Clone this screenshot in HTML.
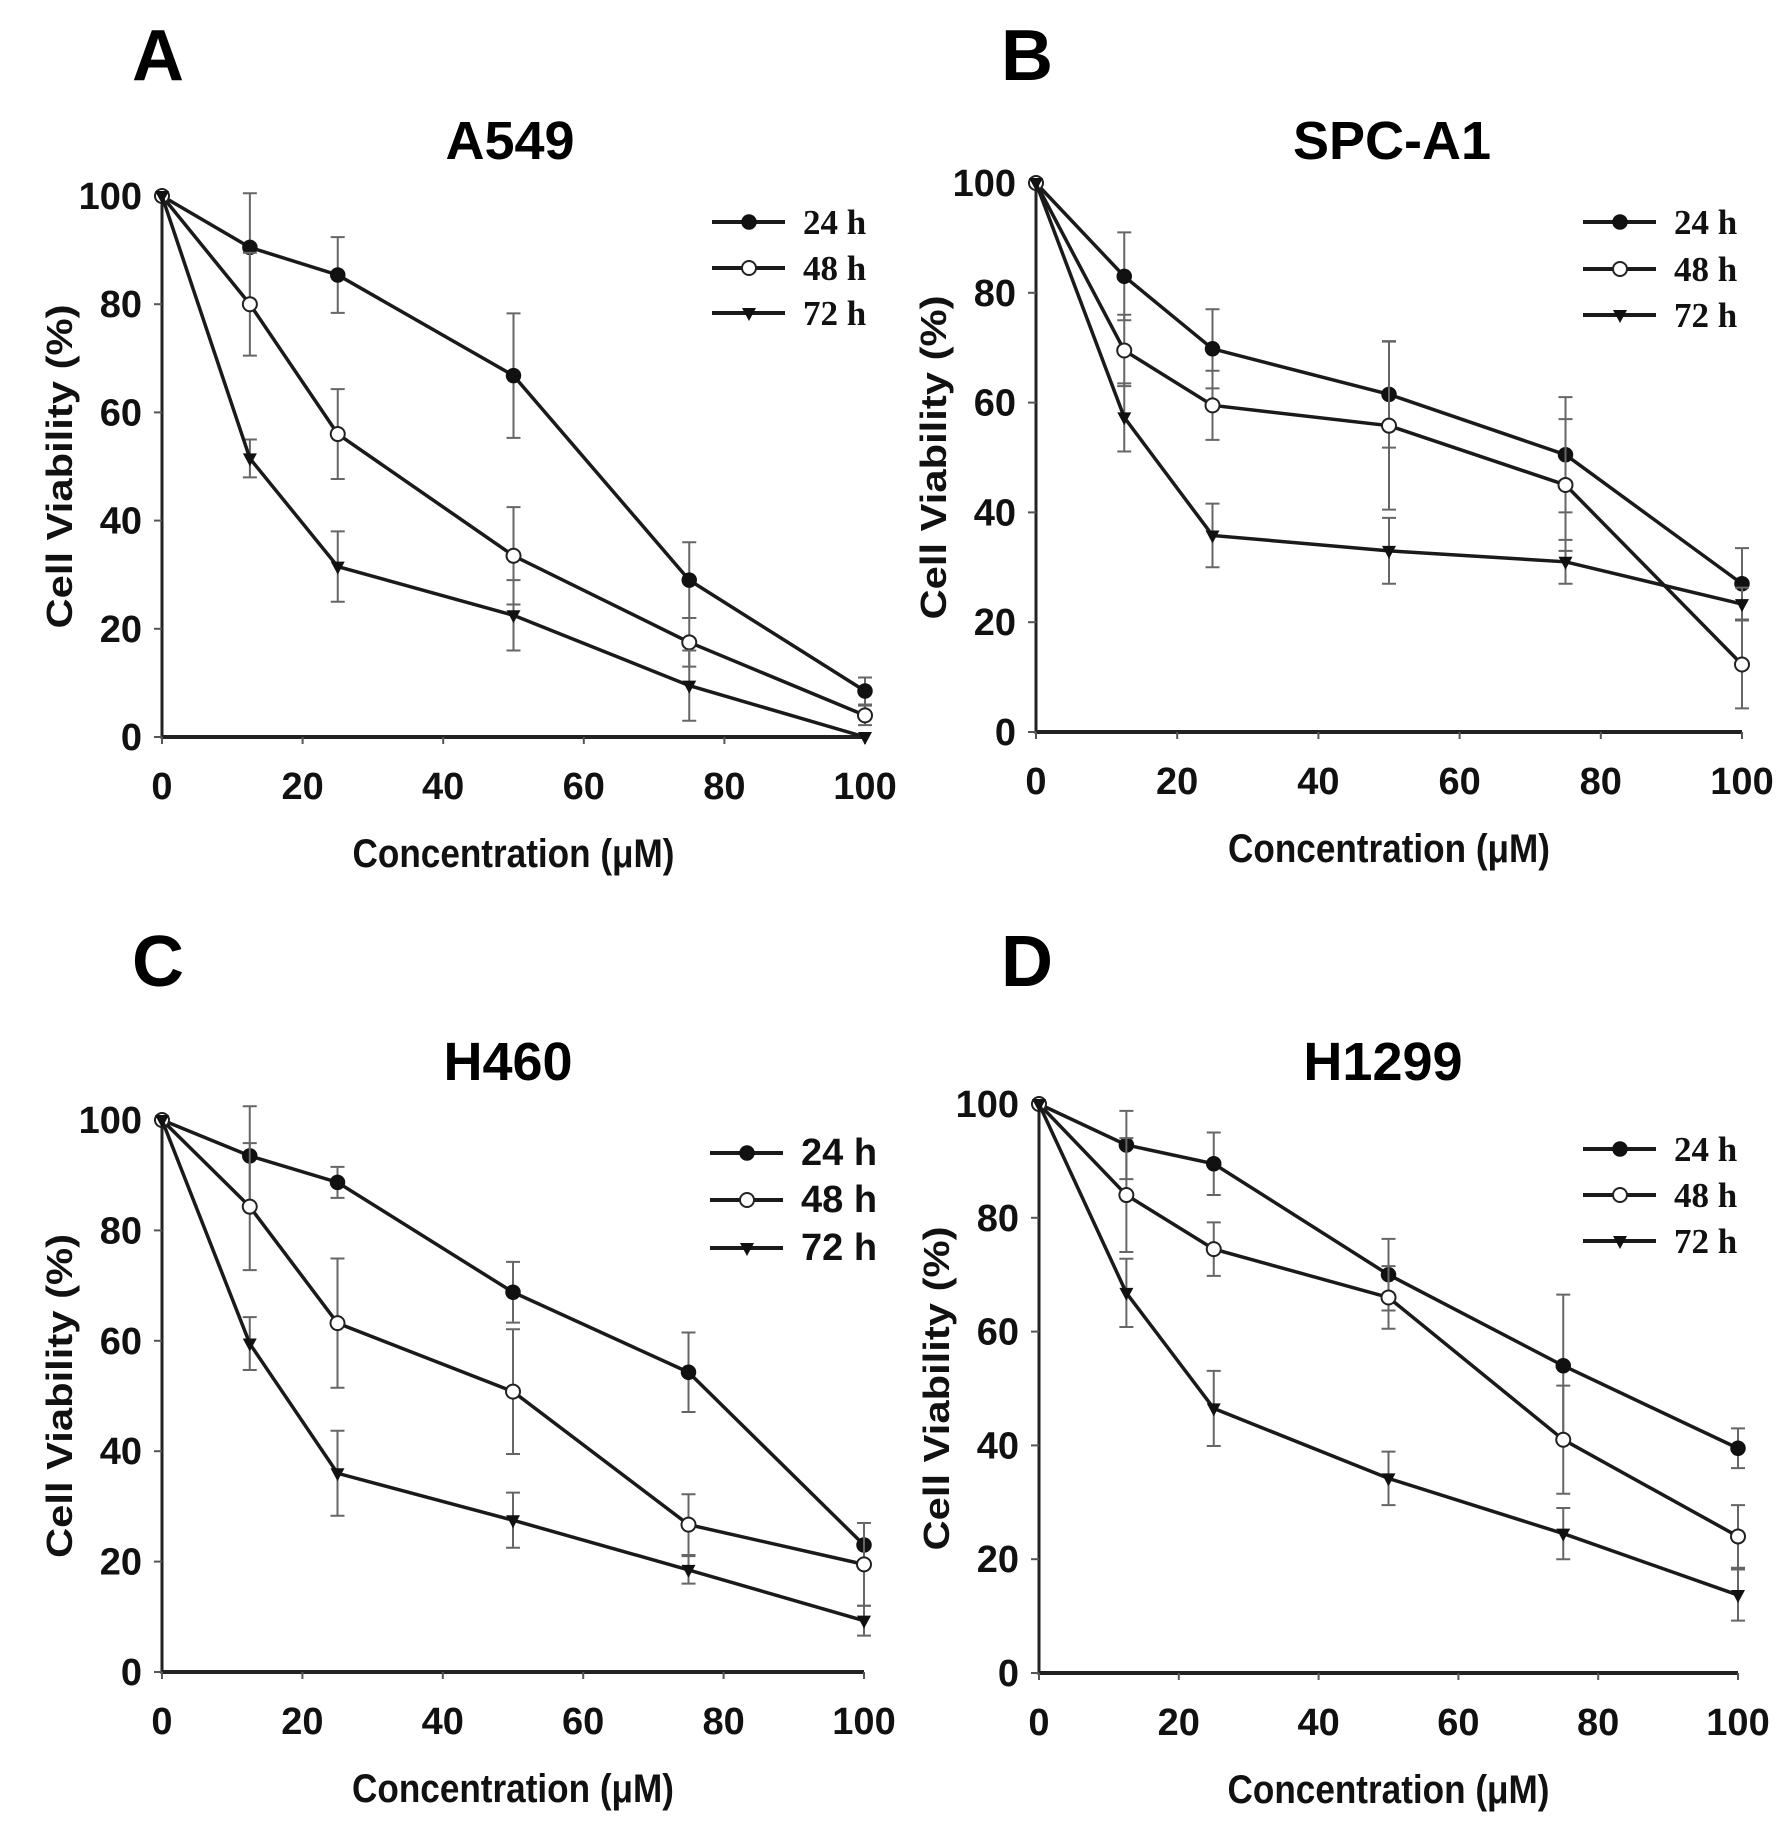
<!DOCTYPE html>
<html><head><meta charset="utf-8"><style>
html,body{margin:0;padding:0;background:#fff;}
svg{display:block;}
</style></head><body>
<svg id="fig" width="1779" height="1845" viewBox="0 0 1779 1845" xmlns="http://www.w3.org/2000/svg"></svg>
<script>
// ---- data ----
const concentrations = [0, 12.5, 25, 50, 75, 100];
const xTicks = [0, 20, 40, 60, 80, 100];
const yTicks = [0, 20, 40, 60, 80, 100];
const seriesNames = ["24 h", "48 h", "72 h"];

const a549_24 = [100, 90.5, 85.4, 66.8, 29, 8.5];
const a549_24_err = [0, 10, 7, 11.5, 7, 2.5];
const a549_48 = [100, 80, 56, 33.5, 17.5, 4];
const a549_48_err = [0, 9.5, 8.3, 9, 4.5, 1.8];
const a549_72 = [100, 51.5, 31.5, 22.5, 9.5, 0];
const a549_72_err = [0, 3.5, 6.5, 6.5, 6.5, 0];

const spc_24 = [100, 83, 69.8, 61.5, 50.5, 27];
const spc_24_err = [0, 8, 7.2, 9.7, 10.5, 6.5];
const spc_48 = [100, 69.5, 59.5, 55.8, 45, 12.3];
const spc_48_err = [0, 6.5, 6.3, 15.3, 12, 8];
const spc_72 = [100, 57.3, 35.8, 33, 31, 23.3];
const spc_72_err = [0, 6.2, 5.8, 6, 4, 3];

const h460_24 = [100, 93.5, 88.7, 68.8, 54.3, 23];
const h460_24_err = [0, 9, 2.8, 5.5, 7.2, 4];
const h460_48 = [100, 84.3, 63.2, 50.8, 26.7, 19.5];
const h460_48_err = [0, 11.5, 11.7, 11.3, 5.5, 7.5];
const h460_72 = [100, 59.5, 36, 27.5, 18.5, 9.3];
const h460_72_err = [0, 4.8, 7.7, 5, 2.5, 2.7];

const h1299_24 = [100, 92.8, 89.5, 70, 54, 39.5];
const h1299_24_err = [0, 6, 5.5, 6.3, 12.5, 3.5];
const h1299_48 = [100, 84, 74.5, 66, 41, 24];
const h1299_48_err = [0, 10, 4.7, 5.5, 9.5, 5.5];
const h1299_72 = [100, 66.8, 46.5, 34.2, 24.5, 13.7];
const h1299_72_err = [0, 6, 6.6, 4.7, 4.5, 4.5];

// ---- layout (not data) ----
const panels = [
  {id:"a", letter:"A", title:"A549", x0:162, x1:865, y0:737, y1:196, letX:132, letY:80, titX:510, titY:159, lx:712, ly:[222,268,313], lf:'"Liberation Serif", serif',
   s:[[a549_24,a549_24_err],[a549_48,a549_48_err],[a549_72,a549_72_err]]},
  {id:"b", letter:"B", title:"SPC-A1", x0:1036, x1:1742, y0:732, y1:183, letX:1001, letY:80, titX:1392, titY:159, lx:1583, ly:[222,269,315], lf:'"Liberation Serif", serif',
   s:[[spc_24,spc_24_err],[spc_48,spc_48_err],[spc_72,spc_72_err]]},
  {id:"c", letter:"C", title:"H460", x0:162, x1:864, y0:1672, y1:1120, letX:132, letY:986, titX:508, titY:1080, lx:710, ly:[1153,1200,1248], lf:'"Liberation Sans", sans-serif',
   s:[[h460_24,h460_24_err],[h460_48,h460_48_err],[h460_72,h460_72_err]]},
  {id:"d", letter:"D", title:"H1299", x0:1039, x1:1738, y0:1673, y1:1104, letX:1001, letY:986, titX:1383, titY:1080, lx:1583, ly:[1149,1195,1241], lf:'"Liberation Serif", serif',
   s:[[h1299_24,h1299_24_err],[h1299_48,h1299_48_err],[h1299_72,h1299_72_err]]}
];

const NS = "http://www.w3.org/2000/svg";
const svg = document.getElementById("fig");
function mk(tag, attrs, parent){
  const e = document.createElementNS(NS, tag);
  for (const k in attrs) e.setAttribute(k, attrs[k]);
  parent.appendChild(e);
  return e;
}
const NARROW = '"Liberation Sans Narrow", "Liberation Sans", sans-serif';

function marker(g, k, cx, cy){
  let m;
  if (k === 0) m = mk("circle", {cx:cx, cy:cy, r:7, fill:"#111", stroke:"#111", "stroke-width":1.5}, g);
  else if (k === 1) m = mk("circle", {cx:cx, cy:cy, r:7, fill:"#fff", stroke:"#222", "stroke-width":2}, g);
  else m = mk("polygon", {points:`${cx-7},${cy-5} ${cx+7},${cy-5} ${cx},${cy+8}`, fill:"#111"}, g);
  return m;
}

panels.forEach(p => {
  const X = v => p.x0 + (p.x1 - p.x0) * v / 100;
  const Y = v => p.y0 - (p.y0 - p.y1) * v / 100;
  const g = mk("g", {}, svg);
  
  

  const let_ = mk("text", {x:p.letX, y:p.letY, "font-family":'"Liberation Sans", sans-serif', "font-weight":"bold", "font-size":72}, g);
  let_.textContent = p.letter;
  
  

  const t = mk("text", {x:p.titX, y:p.titY, "text-anchor":"middle", "font-family":'"Liberation Sans", sans-serif', "font-weight":"bold", "font-size":54}, g);
  t.textContent = p.title;
  
  

  const ax = mk("line", {x1:p.x0, y1:p.y0, x2:p.x1, y2:p.y0, stroke:"#222", "stroke-width":4}, g);
  
  
  const ay = mk("line", {x1:p.x0, y1:p.y0 + 2, x2:p.x0, y2:p.y1, stroke:"#222", "stroke-width":3}, g);
  
  

  xTicks.forEach(v => {
    mk("line", {x1:X(v), y1:p.y0, x2:X(v), y2:p.y0 + 7, stroke:"#555", "stroke-width":2}, g);
    const tl = mk("text", {x:X(v), y:p.y0 + 62, "text-anchor":"middle", "font-family":NARROW, "font-weight":"bold", "font-size":38, fill:"#111"}, g);
    tl.textContent = v;
    
    
  });
  yTicks.forEach(v => {
    mk("line", {x1:p.x0 - 8, y1:Y(v), x2:p.x0, y2:Y(v), stroke:"#555", "stroke-width":2}, g);
    const tl = mk("text", {x:p.x0 - 20, y:Y(v) + 13, "text-anchor":"end", "font-family":NARROW, "font-weight":"bold", "font-size":38, fill:"#111"}, g);
    tl.textContent = v;
    
    
  });

  const xt = mk("text", {x:(p.x0 + p.x1)/2, y:p.y0 + 130, "text-anchor":"middle", "font-family":NARROW, "font-weight":"bold", "font-size":40, textLength:322, lengthAdjust:"spacingAndGlyphs", fill:"#111"}, g);
  xt.textContent = "Concentration (μM)";
  
  
  const cy = (p.y0 + p.y1)/2;
  const yt = mk("text", {x:p.x0 - 90, y:cy, transform:`rotate(-90 ${p.x0 - 90} ${cy})`, "text-anchor":"middle", "font-family":'"Liberation Sans", sans-serif', "font-weight":"bold", "font-size":36, textLength:324, lengthAdjust:"spacingAndGlyphs", fill:"#111"}, g);
  yt.textContent = "Cell Viability (%)";
  
  

  p.s.forEach((ser, k) => {
    const vals = ser[0], errs = ser[1];
    const sg = mk("g", {}, g);
    
    
    vals.forEach((v, i) => {
      const e = errs[i];
      if (e > 0) {
        const eb = mk("path", {d:`M${X(concentrations[i])},${Y(v+e)}V${Y(v-e)}M${X(concentrations[i])-7},${Y(v+e)}h14M${X(concentrations[i])-7},${Y(v-e)}h14`, stroke:"#666", "stroke-width":2, fill:"none"}, sg);
        
        
      }
    });
    const pts = vals.map((v, i) => X(concentrations[i]) + "," + Y(v)).join(" ");
    const pl = mk("polyline", {points:pts, fill:"none", stroke:"#1a1a1a", "stroke-width":3.5}, sg);
    
    
    vals.forEach((v, i) => {
      const m = marker(sg, k, X(concentrations[i]), Y(v));
      
      
    });
  });

  const lg = mk("g", {}, g);
  
  
  seriesNames.forEach((n, k) => {
    const y = p.ly[k];
    const eg = mk("g", {}, lg);
    
    
    mk("line", {x1:p.lx, y1:y, x2:p.lx + 73, y2:y, stroke:"#1a1a1a", "stroke-width":4}, eg);
    marker(eg, k, p.lx + 37, y);
    const tx = mk("text", {x:p.lx + 91, y:y + 12, "font-family":p.lf, "font-weight":"bold", "font-size":p.lf.indexOf("Serif") > 0 ? 35 : 38, fill:"#111"}, eg);
    tx.textContent = n;
  });
});
</script>
</body></html>
